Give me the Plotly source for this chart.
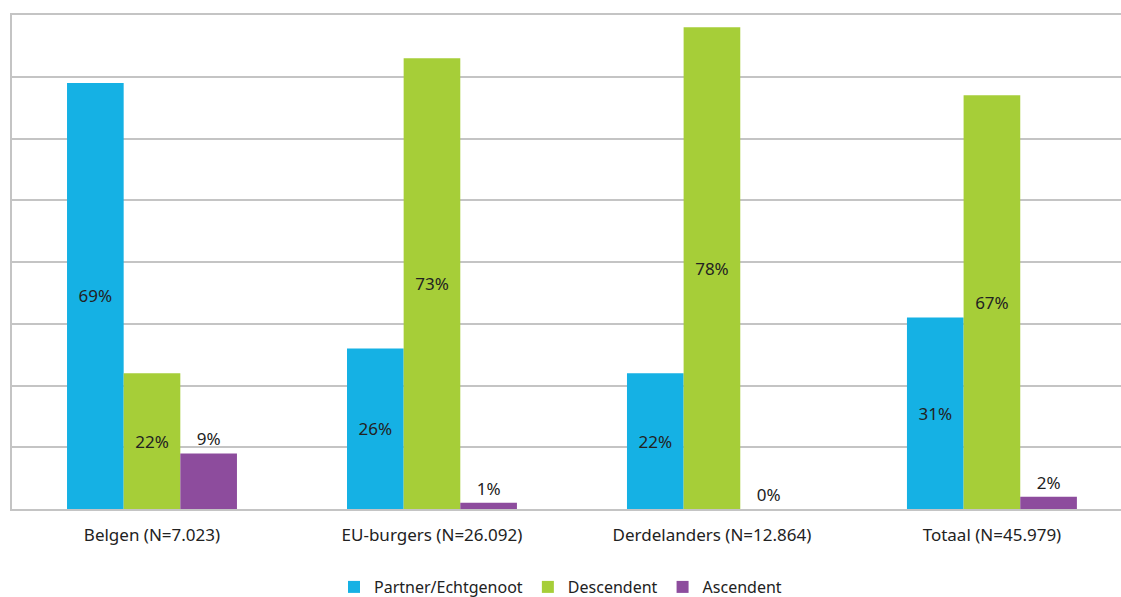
import plotly.graph_objects as go

categories = ["Belgen (N=7.023)", "EU-burgers (N=26.092)", "Derdelanders (N=12.864)", "Totaal (N=45.979)"]
partner = [69, 26, 22, 31]
descendent = [22, 73, 78, 67]
ascendent = [9, 1, 0, 2]

FONT = "Noto Sans"
GRID = "#c4c4c4"
TEXT = "#222222"

fig = go.Figure()
fig.add_trace(go.Bar(
    x=categories, y=partner, name="Partner/Echtgenoot",
    marker=dict(color="#15b1e4", line=dict(width=0)),
    text=[f"{v}%" for v in partner], textposition="inside",
    insidetextanchor="middle", textfont=dict(color=TEXT, size=17),
))
fig.add_trace(go.Bar(
    x=categories, y=descendent, name="Descendent",
    marker=dict(color="#a6ce38", line=dict(width=0)),
    text=[f"{v}%" for v in descendent], textposition="inside",
    insidetextanchor="middle", textfont=dict(color=TEXT, size=17),
))
fig.add_trace(go.Bar(
    x=categories, y=ascendent, name="Ascendent",
    marker=dict(color="#8d4c9d", line=dict(width=0)),
    text=[f"{v}%" for v in ascendent], textposition="outside",
    textfont=dict(color=TEXT, size=17), cliponaxis=False,
))

fig.update_layout(
    width=1121, height=597,
    margin=dict(l=12, r=0, t=15, b=88, autoexpand=False),
    paper_bgcolor="white", plot_bgcolor="white",
    font=dict(family=FONT, size=17, color=TEXT),
    barmode="group", bargap=0.393, bargroupgap=0,
    uniformtext=dict(mode=False),
    showlegend=True,
    legend=dict(orientation="h", x=0.5, xanchor="center", xref="container",
                y=10 / 597, yanchor="middle", yref="container",
                font=dict(size=16, color=TEXT), itemwidth=30),
    xaxis=dict(range=[-0.5, 3.461], showline=True, mirror=True, linecolor=GRID,
               linewidth=2, showgrid=False, ticks="", ticklabelstandoff=10,
               tickfont=dict(size=17, color=TEXT)),
    yaxis=dict(range=[0, 80], dtick=10,
               showticklabels=False, showgrid=True,
               gridcolor=GRID, gridwidth=2, showline=True, linecolor=GRID,
               linewidth=2, zeroline=False, ticks=""),
)

fig.write_html("out.html")
